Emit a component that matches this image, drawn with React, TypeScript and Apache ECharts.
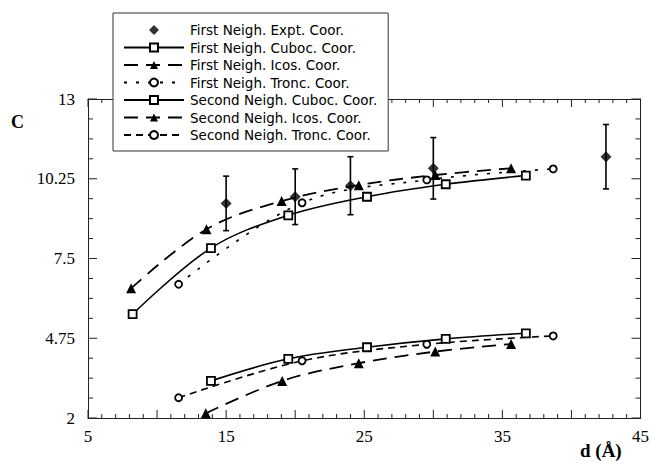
import React, { useEffect, useRef } from "react";
import * as echarts from "echarts";

const xTicks = [5, 15, 25, 35, 45];
const yTicks = [2, 4.75, 7.5, 10.25, 13];

const exptX = [15, 20, 24, 30, 42.5];
const exptY = [9.4, 9.63, 10.01, 10.61, 11.01];
const exptErr = [0.94, 0.96, 1.0, 1.06, 1.11];

const cubocX = [8.23, 13.9, 19.5, 25.2, 30.9, 36.7];
const firstCubocY = [5.58, 7.86, 8.99, 9.63, 10.06, 10.36];
const icosX = [8.12, 13.58, 19.02, 24.6, 30.14, 35.63];
const firstIcosY = [6.47, 8.51, 9.48, 10.03, 10.38, 10.61];
const troncX = [11.56, 20.5, 29.53, 38.68];
const firstTroncY = [6.61, 9.42, 10.21, 10.59];

const secondCubocX = [13.9, 19.5, 25.2, 30.9, 36.7];
const secondCubocY = [3.28, 4.04, 4.44, 4.73, 4.92];
const secondIcosX = [13.53, 19.06, 24.6, 30.14, 35.63];
const secondIcosY = [2.16, 3.28, 3.89, 4.29, 4.55];
const secondTroncY = [2.7, 3.97, 4.54, 4.83];

const names = [
  "First Neigh. Expt. Coor.",
  "First Neigh. Cuboc. Coor.",
  "First Neigh. Icos. Coor.",
  "First Neigh. Tronc. Coor.",
  "Second Neigh. Cuboc. Coor.",
  "Second Neigh. Icos. Coor.",
  "Second Neigh. Tronc. Coor.",
];

const zip = (xs: number[], ys: number[]) => xs.map((x, i) => [x, ys[i]]);

export default function App() {
  const ref = useRef<HTMLDivElement>(null);
  useEffect(() => {
    if (!ref.current) return;
    const chart = echarts.init(ref.current, null, { renderer: "svg" });
    const serif = "Liberation Serif";
    const sans = "DejaVu Sans";
    const xMin = xTicks[0], xMax = xTicks[xTicks.length - 1];
    const yMin = yTicks[0], yMax = yTicks[yTicks.length - 1];
    const yStep = yTicks[1] - yTicks[0];

    // tick marks (inside, on all four sides): [axis, value, length]
    const tickData: number[][] = [];
    for (let v = xMin; v <= xMax + 1e-9; v += 1) tickData.push([0, v, v % 5 === 0 ? 8 : 4]);
    for (let i = 0; i <= 16; i++) {
      const v = yMin + (i * yStep) / 4;
      tickData.push([1, v, i % 4 === 0 ? 9 : 5]);
    }

    const mkX = (pos: string, labels: boolean) => ({
      type: "value",
      min: xMin,
      max: xMax,
      interval: 5,
      position: pos,
      axisLine: { show: true, onZero: false, lineStyle: { color: "#222", width: 1 } },
      axisTick: { show: false },
      minorTick: { show: false },
      splitLine: { show: false },
      minorSplitLine: { show: false },
      axisLabel: labels
        ? {
            show: true,
            interval: 0,
            margin: 10,
            color: "#000",
            fontFamily: serif,
            fontSize: 17,
            showMinLabel: true,
            showMaxLabel: true,
            formatter: (v: number) => (xTicks.includes(v) ? String(v) : ""),
          }
        : { show: false },
    });
    const mkY = (pos: string, labels: boolean) => ({
      type: "value",
      min: yMin,
      max: yMax,
      interval: yStep,
      position: pos,
      axisLine: { show: true, onZero: false, lineStyle: { color: "#222", width: 1 } },
      axisTick: { show: false },
      minorTick: { show: false },
      splitLine: { show: false },
      minorSplitLine: { show: false },
      axisLabel: labels
        ? {
            show: true,
            margin: 13,
            color: "#000",
            fontFamily: serif,
            fontSize: 17,
            formatter: (v: number) => {
              const t = yTicks.find((k) => Math.abs(k - v) < 1e-6);
              return t === undefined ? "" : String(t);
            },
          }
        : { show: false },
    });

    const lineSeries = (
      name: string,
      data: number[][],
      dash: any,
      symbol: string,
      size: number,
      filled: boolean,
      width = 1.6
    ) => ({
      name,
      type: "line",
      data,
      smooth: 0.35,
      symbol,
      symbolSize: size,
      showSymbol: true,
      lineStyle: { color: "#000", width, type: dash },
      itemStyle: filled
        ? { color: "#000", borderColor: "#000", borderWidth: 0 }
        : { color: "#fff", borderColor: "#000", borderWidth: 1.8 },
      z: 3,
    });
    const errData = exptX.map((x, i) => [x, exptY[i] - exptErr[i], exptY[i] + exptErr[i]]);
    chart.setOption({
      animation: false,
      backgroundColor: "#fff",
      grid: { left: 88, right: 10, top: 99, bottom: 45, containLabel: false },
      xAxis: [mkX("bottom", true), mkX("top", false)],
      yAxis: [mkY("left", true), mkY("right", false)],
      legend: {
        left: 113,
        top: 13,
        orient: "vertical",
        padding: [10, 11, 9, 10],
        itemWidth: 60,
        itemHeight: 10,
        itemGap: 3.5,
        backgroundColor: "#fff",
        borderColor: "#333",
        borderWidth: 1,
        z: 10,
        symbolKeepAspect: true,
        textStyle: { color: "#000", fontFamily: sans, fontSize: 13.5, padding: [0, 0, 0, 1] },
        data: names.map((n, i) =>
          i === 0 ? { name: n, icon: "path://M5,0L10,5L5,10L0,5Z" } : { name: n }
        ),
      },
      graphic: [
        {
          type: "text",
          left: 11,
          top: 113,
          style: { text: "C", font: `bold 18px ${serif}`, fill: "#000" },
        },
        {
          type: "text",
          left: 580,
          top: 441,
          style: { text: "d (Å)", font: `bold 19px ${serif}`, fill: "#000" },
        },
      ],
      series: [
        {
          name: "ticks",
          type: "custom",
          data: tickData,
          silent: true,
          z: 1,
          renderItem: (params: any, api: any) => {
            const axis = api.value(0);
            const v = api.value(1);
            const len = api.value(2);
            const st = { stroke: "#222", lineWidth: 1 };
            if (axis === 0) {
              const b = api.coord([v, yMin]);
              const t = api.coord([v, yMax]);
              return {
                type: "group",
                children: [
                  { type: "line", shape: { x1: b[0], y1: b[1], x2: b[0], y2: b[1] - len }, style: st },
                  { type: "line", shape: { x1: t[0], y1: t[1], x2: t[0], y2: t[1] + len }, style: st },
                ],
              };
            }
            const l = api.coord([xMin, v]);
            const r = api.coord([xMax, v]);
            return {
              type: "group",
              children: [
                { type: "line", shape: { x1: l[0], y1: l[1], x2: l[0] + len, y2: l[1] }, style: st },
                { type: "line", shape: { x1: r[0], y1: r[1], x2: r[0] - len, y2: r[1] }, style: st },
              ],
            };
          },
        },
        {
          name: names[0],
          type: "scatter",
          data: zip(exptX, exptY),
          symbol: "diamond",
          symbolSize: 11,
          itemStyle: { color: "#000" },
          z: 5,
        },
        {
          name: "errors",
          type: "custom",
          data: errData,
          z: 4,
          renderItem: (params: any, api: any) => {
            const x = api.value(0);
            const top = api.coord([x, api.value(2)]);
            const bot = api.coord([x, api.value(1)]);
            const hw = 3;
            const st = { stroke: "#000", lineWidth: 1.6 };
            return {
              type: "group",
              children: [
                { type: "line", shape: { x1: top[0], y1: top[1], x2: bot[0], y2: bot[1] }, style: st },
                { type: "line", shape: { x1: top[0] - hw, y1: top[1], x2: top[0] + hw, y2: top[1] }, style: st },
                { type: "line", shape: { x1: bot[0] - hw, y1: bot[1], x2: bot[0] + hw, y2: bot[1] }, style: st },
              ],
            };
          },
        },
        lineSeries(names[1], zip(cubocX, firstCubocY), "solid", "rect", 8, false),
        lineSeries(names[2], zip(icosX, firstIcosY), [14, 8], "triangle", 10, true, 1.8),
        lineSeries(names[3], zip(troncX, firstTroncY), [3, 9], "circle", 7, false),
        lineSeries(names[4], zip(secondCubocX, secondCubocY), "solid", "rect", 8, false),
        lineSeries(names[5], zip(secondIcosX, secondIcosY), [14, 8], "triangle", 10, true, 1.8),
        lineSeries(names[6], zip(troncX, secondTroncY), [7, 5], "circle", 7, false),
      ],
    });
    return () => chart.dispose();
  }, []);
  return <div ref={ref} style={{ width: 652, height: 463, position: "absolute", left: 0, top: 0 }} />;
}
